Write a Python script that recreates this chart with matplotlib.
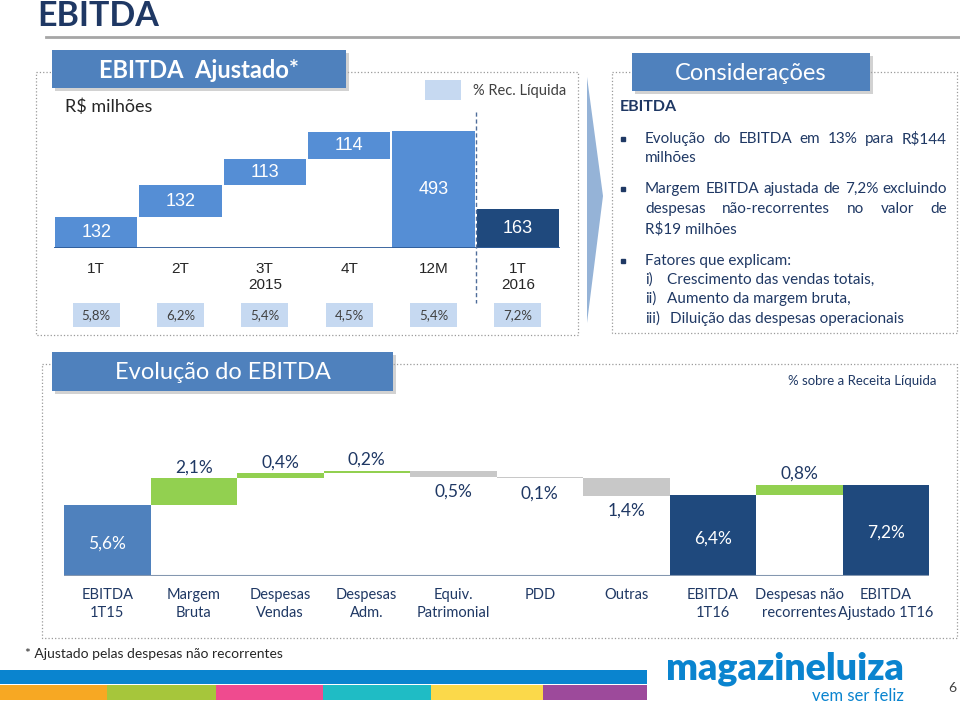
import numpy as np
import matplotlib.pyplot as plt
from matplotlib.patches import Rectangle, Polygon

plt.rcParams['font.family'] = ['Lato', 'DejaVu Sans']

# EBITDA ajustado (R$ milhões)
tri_labels = ['1T', '2T', '3T\n2015', '4T', '12M', '1T\n2016']
tri_valores = [132, 132, 113, 114, 493, 163]
tri_acumula = [True, True, True, True, False, False]
tri_margem = ['5,8%', '6,2%', '5,4%', '4,5%', '5,4%', '7,2%']

# evolução do EBITDA (% sobre a receita líquida)
evo_labels = ['EBITDA\n1T15', 'Margem\nBruta', 'Despesas\nVendas', 'Despesas\nAdm.',
              'Equiv.\nPatrimonial', 'PDD', 'Outras', 'EBITDA\n1T16',
              'Despesas não\nrecorrentes', 'EBITDA\nAjustado 1T16']
evo_valores = [5.6, 2.1, 0.4, 0.2, -0.5, -0.1, -1.4, 6.4, 0.8, 7.2]
evo_total = [True, False, False, False, False, False, False, True, False, True]

AZUL = '#4f81bd'
AZUL_CLARO = '#558ed5'
AZUL_ESC = '#1f497d'
TXT = '#1f3864'

fig = plt.figure(figsize=(9.6, 7.03), dpi=100)
bg = fig.add_axes([0, 0, 1, 1])
bg.set_xlim(0, 960)
bg.set_ylim(703, 0)
bg.axis('off')


def pos(x0, x1, ybase, htop):
    # caixa em pixels -> fração da figura
    return [x0 / 960, (703 - ybase) / 703, (x1 - x0) / 960, (ybase - htop) / 703]


def cabecalho(x, y, w, h, txt, bold=False):
    bg.add_patch(Rectangle((x + 3, y + 3), w, h, color='#a6a6a6', alpha=0.5, lw=0))
    bg.add_patch(Rectangle((x, y), w, h, color=AZUL, lw=0))
    bg.text(x + w / 2, y + h / 2 + 1, txt, color='white', fontsize=17,
            fontweight='bold' if bold else 'normal', ha='center', va='center')


# titulo
bg.text(37, 16, 'EBITDA', fontsize=24.5, fontweight='bold', color=TXT, va='center')
bg.plot([46, 960], [37, 37], color='#a6a6a6', lw=2)

# molduras pontilhadas
for (x0, y0, x1, y1) in [(36, 72, 578, 335), (612, 72, 957, 333), (42, 364, 957, 638)]:
    bg.add_patch(Rectangle((x0, y0), x1 - x0, y1 - y0, fill=False, ls=':', ec='#9a9a9a', lw=0.9))

cabecalho(52, 50, 294, 38, 'EBITDA  Ajustado*', bold=True)
cabecalho(632, 53, 238, 38, 'Considerações')
cabecalho(52, 352, 341, 39, 'Evolução do EBITDA')

bg.text(65, 107, 'R$ milhões', fontsize=13, color='#262626', va='center')
bg.add_patch(Rectangle((425, 80), 36, 20, color='#c6d9f1', lw=0))
bg.text(473, 91, '% Rec. Líquida', fontsize=10.5, color='#404040', va='center')

# seta
bg.add_patch(Polygon([(587, 77), (603, 196), (587, 323)], closed=True, color='#95b3d7', lw=0))

# ---- grafico superior
ax1 = fig.add_axes(pos(54, 560, 248, 129.5))
ax1.set_xlim(-0.5, 5.5)
ax1.set_ylim(0, 500)
ax1.axis('off')
x1 = np.arange(len(tri_valores))
base = []
nivel = 0
for v, ac in zip(tri_valores, tri_acumula):
    if ac:
        base.append(nivel)
        nivel += v
    else:
        base.append(0)
cores1 = [AZUL_CLARO] * 5 + [AZUL_ESC]
ax1.bar(x1, tri_valores, bottom=base, width=0.975, color=cores1, lw=0)
ax1.axhline(0, color='#2e5c99', lw=1.3)
for i, (v, b) in enumerate(zip(tri_valores, base)):
    ax1.text(i, b + v / 2, str(v), color='white', fontsize=13, ha='center', va='center',
             family=['Liberation Sans', 'DejaVu Sans'])
    ax1.text(i, -60, tri_labels[i], color='#262626', fontsize=11, ha='center', va='top',
             family=['Liberation Sans', 'DejaVu Sans'], linespacing=1.2)
ax1.bar(x1, [101] * 6, bottom=-333, width=0.56, color='#c6d9f1', lw=0, clip_on=False)
for i, m in enumerate(tri_margem):
    ax1.text(i, -283, m, color='#404040', fontsize=9.5, ha='center', va='center', clip_on=False)
ax1.plot([4.5, 4.5], [574, -232], ls=(0, (3, 2)), color='#4f6d9a', lw=1, clip_on=False)

# ---- consideracoes
r = fig.canvas.get_renderer()


def justifica(txt, x0, x1, y, **kw):
    arts = [bg.text(x0, y, w, va='center', **kw) for w in txt.split()]
    larg = [a.get_window_extent(r).width for a in arts]
    gap = (x1 - x0 - sum(larg)) / (len(arts) - 1)
    x = x0
    for a, w in zip(arts, larg):
        a.set_x(x)
        x += w + gap


kw = dict(fontsize=11, color=TXT)
bg.text(620, 107, 'EBITDA', fontsize=11.5, fontweight='bold', color=TXT, va='center')
for yb in [139, 189, 261]:
    bg.plot(623, yb, marker='s', ms=3.5, color=TXT)
justifica('Evolução do EBITDA em 13% para R$144', 645, 947, 139, **kw)
bg.text(645, 158, 'milhões', va='center', **kw)
justifica('Margem EBITDA ajustada de 7,2% excluindo', 645, 947, 189, **kw)
justifica('despesas não-recorrentes no valor de', 645, 947, 209, **kw)
bg.text(645, 229, 'R$19 milhões', va='center', **kw)
bg.text(645, 261, 'Fatores que explicam:', va='center', **kw)
for yy, rom, t, xt in [(280, 'i)', 'Crescimento das vendas totais,', 667),
                       (299, 'ii)', 'Aumento da margem bruta,', 667),
                       (319, 'iii)', 'Diluição das despesas operacionais', 670)]:
    bg.text(645, yy, rom, va='center', **kw)
    bg.text(xt, yy, t, va='center', **kw)

# ---- grafico inferior (cascata)
bg.text(936, 381, '% sobre a Receita Líquida', fontsize=9.5, color=TXT, ha='right', va='center')
ax2 = fig.add_axes(pos(64, 929, 576, 576 - 9 * 12.7))
ax2.set_xlim(-0.5, 9.5)
ax2.set_ylim(0, 9)
ax2.axis('off')
x2 = np.arange(len(evo_valores))
fundos, alturas, cores2 = [], [], []
nivel = 0
for i, (v, tot) in enumerate(zip(evo_valores, evo_total)):
    if tot:
        fundos.append(0)
        alturas.append(v)
        cores2.append(AZUL if i == 0 else AZUL_ESC)
        nivel = v
    else:
        fundos.append(nivel if v > 0 else nivel + v)
        alturas.append(abs(v))
        cores2.append('#92d050' if v > 0 else '#c8c8c8')
        nivel += v
ax2.bar(x2, alturas, bottom=fundos, width=1.0, color=cores2, lw=0)
ax2.axhline(0, color='#8497b0', lw=1.5)
for i, v in enumerate(evo_valores):
    rot = f'{abs(v):.1f}%'.replace('.', ',')
    if evo_total[i]:
        ax2.annotate(rot, (i, alturas[i] / 2), xytext=(0, -2), textcoords='offset points',
                     color='white', fontsize=12.5, ha='center', va='center')
    elif v > 0:
        ax2.annotate(rot, (i, fundos[i] + alturas[i]), xytext=(0, 2), textcoords='offset points',
                     color=TXT, fontsize=12.5, ha='center', va='bottom')
    else:
        ax2.annotate(rot, (i, fundos[i]), xytext=(0, -5), textcoords='offset points',
                     color=TXT, fontsize=12.5, ha='center', va='top')
    ax2.text(i, -0.95, evo_labels[i], color=TXT, fontsize=10.5, ha='center', va='top',
             linespacing=1.4, clip_on=False)

# ---- rodape
bg.text(25, 654, '* Ajustado pelas despesas não recorrentes', fontsize=10, color='#262626', va='center')
bg.add_patch(Rectangle((0, 670), 647, 14, color='#0a84cf', lw=0))
faixas = [0, 107, 216, 323, 431, 543, 647]
cores_f = ['#f7a823', '#a6c63b', '#ef4b8f', '#1fbcc5', '#fbd94a', '#9d4a9b']
for a, b, c in zip(faixas[:-1], faixas[1:], cores_f):
    bg.add_patch(Rectangle((a, 685), b - a, 15, color=c, lw=0))
bg.text(904, 680, 'magazineluiza', fontsize=27, fontweight='heavy', color='#0a84cf',
        ha='right', va='baseline')
bg.text(904, 701, 'vem ser feliz', fontsize=12, color='#0a84cf', ha='right', va='baseline')
bg.text(952, 688, '6', fontsize=10, color='#404040', ha='center', va='center')

plt.savefig('out.png', dpi=100)
